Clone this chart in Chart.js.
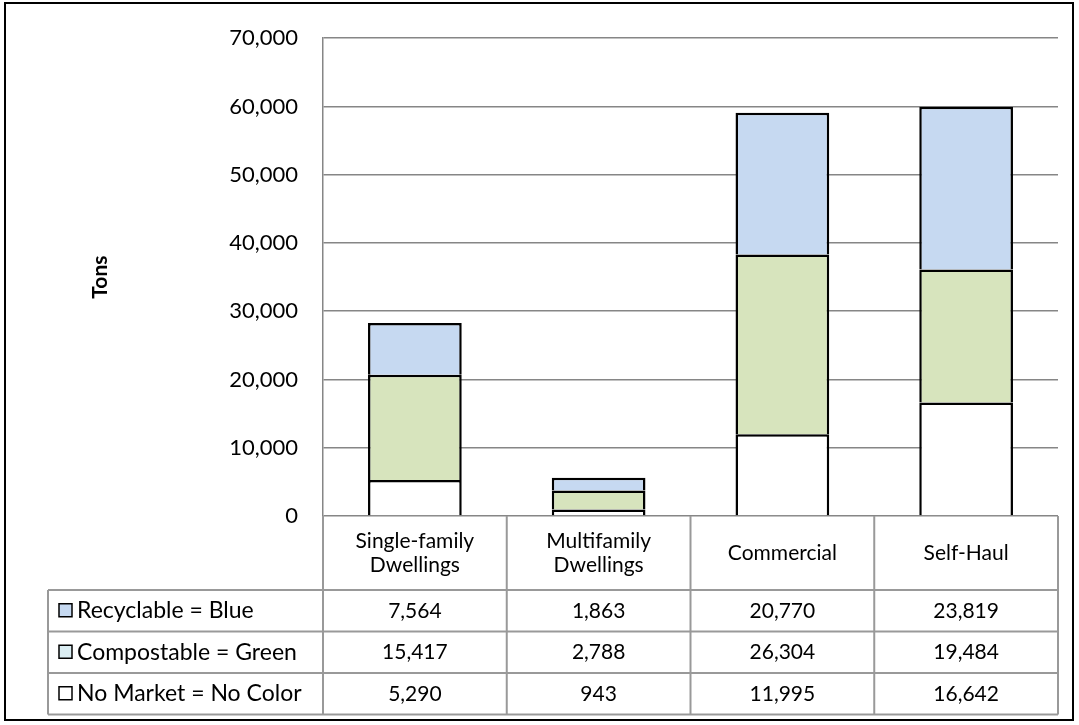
<!DOCTYPE html>
<html>
<head>
<meta charset="utf-8">
<title>Tons by sector</title>
<script src="https://cdn.jsdelivr.net/npm/chart.js@4"></script>
<style>
  html, body { margin: 0; padding: 0; background: #fff; }
  #wrap { width: 1079px; height: 725px; }
</style>
</head>
<body>
<div id="wrap"><canvas id="tons-chart" width="1079" height="725"></canvas></div>
<script>
const categories = [
  ["Single-family", "Dwellings"],
  ["Multifamily", "Dwellings"],
  ["Commercial"],
  ["Self-Haul"],
];
const noMarket = [5290, 943, 11995, 16642];
const compostable = [15417, 2788, 26304, 19484];
const recyclable = [7564, 1863, 20770, 23819];

const seriesNames = ["No Market = No Color", "Compostable = Green", "Recyclable = Blue"];
const barColors = ["#ffffff", "#d7e4bd", "#c6d9f1"];
const swatchColors = ["#ffffff", "#dbeef3", "#c6d9f1"];
const yTicks = [0, 10000, 20000, 30000, 40000, 50000, 60000, 70000];

const FONT = "Lato, 'Liberation Sans', sans-serif";
const fmt = (v) => v.toLocaleString("en-US");

// draws the data table under the plot, columns follow the x scale
const dataTable = {
  id: "dataTable",
  afterDraw(chart) {
    const ctx = chart.ctx;
    const area = chart.chartArea;
    const x = chart.scales.x;
    const step = x.width / categories.length;
    const top = area.bottom;
    const headerH = 74;
    const rowH = 41.5;
    const legendLeft = 48;
    const bottom = top + headerH + rowH * 3;

    ctx.save();
    ctx.strokeStyle = "#999999";
    ctx.lineWidth = 2;

    // row lines
    for (let r = 0; r <= 3; r++) {
      const y = top + headerH + r * rowH;
      ctx.beginPath();
      ctx.moveTo(legendLeft, y);
      ctx.lineTo(x.right, y);
      ctx.stroke();
    }
    // column lines
    ctx.beginPath();
    ctx.moveTo(legendLeft, top + headerH);
    ctx.lineTo(legendLeft, bottom);
    ctx.stroke();
    for (let c = 0; c <= categories.length; c++) {
      const cx = x.left + c * step;
      ctx.beginPath();
      ctx.moveTo(cx, top);
      ctx.lineTo(cx, bottom);
      ctx.stroke();
    }

    ctx.fillStyle = "#000";
    ctx.textBaseline = "middle";
    ctx.font = "21px " + FONT;

    // header labels
    ctx.textAlign = "center";
    categories.forEach((lines, i) => {
      const cx = x.getPixelForValue(i);
      const mid = top + headerH / 2;
      lines.forEach((line, j) => {
        ctx.fillText(line, cx, mid + (j - (lines.length - 1) / 2) * 24);
      });
    });

    // value rows, top series first
    const datasets = chart.data.datasets;
    for (let r = 0; r < datasets.length; r++) {
      const d = datasets.length - 1 - r;
      const cy = top + headerH + r * rowH + rowH / 2;

      ctx.fillStyle = swatchColors[d];
      ctx.fillRect(59, cy - 7, 13, 13);
      ctx.strokeStyle = "#000";
      ctx.lineWidth = 1.5;
      ctx.strokeRect(59, cy - 7, 13, 13);

      ctx.fillStyle = "#000";
      ctx.textAlign = "left";
      ctx.font = "23px " + FONT;
      ctx.fillText(datasets[d].label, 77, cy);

      ctx.textAlign = "center";
      ctx.font = "21px " + FONT;
      datasets[d].data.forEach((v, i) => {
        ctx.fillText(fmt(v), x.getPixelForValue(i), cy);
      });
    }

    // outer frame
    ctx.strokeStyle = "#000";
    ctx.lineWidth = 2;
    ctx.strokeRect(5, 3, 1068, 717);
    ctx.restore();
  },
};

const seriesData = [noMarket, compostable, recyclable];

new Chart(document.getElementById("tons-chart"), {
  type: "bar",
  data: {
    labels: categories,
    datasets: seriesData.map((data, i) => ({
      label: seriesNames[i],
      data: data,
      backgroundColor: barColors[i],
      borderColor: "#000",
      borderWidth: 2.5,
      borderSkipped: "bottom",
      categoryPercentage: 1,
      barPercentage: 0.51,
    })),
  },
  options: {
    responsive: false,
    animation: false,
    layout: { padding: { left: 88, right: 21, top: 32, bottom: 209 } },
    plugins: {
      legend: { display: false },
      tooltip: { enabled: false },
    },
    scales: {
      x: { stacked: true, display: false },
      y: {
        stacked: true,
        min: 0,
        max: 70000,
        afterBuildTicks: (scale) => {
          scale.ticks = yTicks.map((v) => ({ value: v }));
        },
        afterFit: (scale) => {
          scale.width = 235;
        },
        grid: { color: "#868686", lineWidth: 1.5, drawTicks: false },
        border: { color: "#868686", width: 1.5 },
        ticks: {
          padding: 25,
          color: "#000",
          font: { family: FONT, size: 22 },
          callback: (v) => fmt(v),
        },
        title: {
          display: true,
          text: "Tons",
          color: "#000",
          padding: 0,
          font: { family: FONT, size: 21, weight: "bold" },
        },
      },
    },
  },
  plugins: [dataTable],
});
</script>
</body>
</html>
